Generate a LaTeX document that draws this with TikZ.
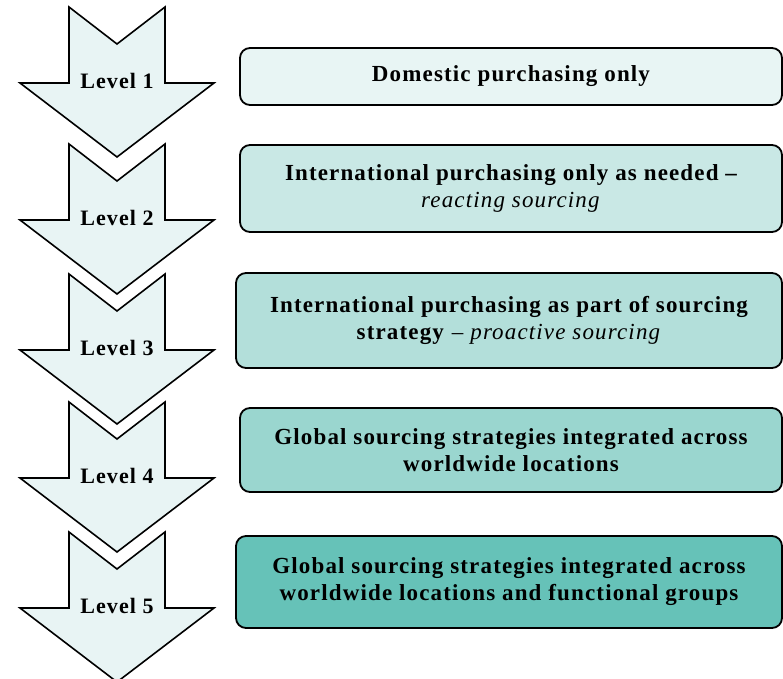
\documentclass[tikz,border=0pt]{standalone}
\usepackage{fontspec}
\setmainfont[LetterSpace=5]{Liberation Serif}
\usetikzlibrary{positioning}

\definecolor{arrowfill}{HTML}{E8F4F4}
\definecolor{lvlone}{HTML}{E8F5F4}
\definecolor{lvltwo}{HTML}{C9E8E5}
\definecolor{lvlthree}{HTML}{B3DFDA}
\definecolor{lvlfour}{HTML}{9AD6CF}
\definecolor{lvlfive}{HTML}{66C2B8}

\tikzset{
    arrowbody/.style={draw, line width=1.6pt, line join=miter, fill=arrowfill},
    levelarrow/.pic={
        \draw[arrowbody] (-48,0) -- (0,37) -- (48,0) -- (48,76) -- (97,76)
            -- (0,150) -- (-97,76) -- (-48,76) -- cycle;
    },
    levellabel/.style={font=\fontsize{22}{23}\selectfont\bfseries, inner sep=1pt},
    stagebox/.style={draw, line width=1.8pt, rounded corners=10pt, align=center,
        font=\fontsize{23}{27}\selectfont\bfseries, inner sep=0pt}
}

\begin{document}
\begin{tikzpicture}[x=1pt, y=-1pt]
        \useasboundingbox (0,0) rectangle (783,678);

        % the five level arrows
        \pic at (117,7) {levelarrow};
        \node[levellabel] (l1) at (117,81) {Level 1};
        \pic at (117,144) {levelarrow};
        \node[levellabel] (l2) at (117,218) {Level 2};
        \pic at (117,274) {levelarrow};
        \node[levellabel] (l3) at (117,348) {Level 3};
        \pic at (117,402) {levelarrow};
        \node[levellabel] (l4) at (117,476) {Level 4};
        \pic at (117,532) {levelarrow};
        \node[levellabel] (l5) at (117,606) {Level 5};

        % the stages
        \node[stagebox, fill=lvlone, minimum width=542pt, minimum height=57pt] (s1) at (511,76.5) {Domestic purchasing only};
        \node[stagebox, fill=lvltwo, minimum width=542pt, minimum height=87pt] (s2) at (511,188.5) {International purchasing only as needed --\\ \textmd{\textit{reacting sourcing}}};
        \node[stagebox, fill=lvlthree, minimum width=546pt, minimum height=95pt] (s3) at (509,320.5) {International purchasing as part of sourcing\\ strategy \textmd{-- \textit{proactive sourcing}}};
        \node[stagebox, fill=lvlfour, minimum width=542pt, minimum height=84pt] (s4) at (511,450) {Global sourcing strategies integrated across\\ worldwide locations};
        \node[stagebox, fill=lvlfive, minimum width=546pt, minimum height=92pt] (s5) at (509,582) {Global sourcing strategies integrated across\\ worldwide locations and functional groups};
    \end{tikzpicture}
\end{document}
